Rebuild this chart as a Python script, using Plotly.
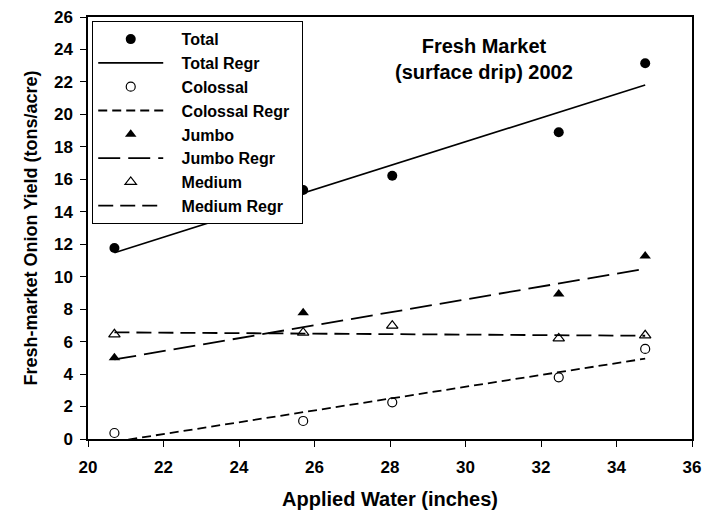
import plotly.graph_objects as go

water = [20.7, 25.7, 28.06, 32.47, 34.76]
total = [11.77, 15.34, 16.22, 18.9, 23.15]
colossal = [0.37, 1.11, 2.26, 3.8, 5.55]
jumbo = [5.01, 7.78, 6.98, 8.93, 11.27]
medium = [6.45, 6.55, 6.98, 6.2, 6.39]

regr_x = [20.7, 34.76]
total_regr = [11.48, 21.81]
colossal_regr = [-0.17, 4.95]
jumbo_regr = [4.9, 10.49]
medium_regr = [6.57, 6.36]

x_ticks = [20, 22, 24, 26, 28, 30, 32, 34, 36]
y_ticks = list(range(0, 27, 2))

FONT = "Liberation Sans, Arial, sans-serif"
BLK = "black"
PAD = "&nbsp;&nbsp;&nbsp;"

fig = go.Figure()

fig.add_trace(go.Scatter(x=water, y=total, mode="markers", name=PAD + "<b>Total</b>",
                         marker=dict(symbol="circle", size=10, color=BLK)))
fig.add_trace(go.Scatter(x=regr_x, y=total_regr, mode="lines", name=PAD + "<b>Total Regr</b>",
                         line=dict(color=BLK, width=1.6)))
fig.add_trace(go.Scatter(x=water, y=colossal, mode="markers", name=PAD + "<b>Colossal</b>",
                         marker=dict(symbol="circle", size=9, color="white",
                                     line=dict(color=BLK, width=1.2))))
fig.add_trace(go.Scatter(x=regr_x, y=colossal_regr, mode="lines",
                         name=PAD + "<b>Colossal Regr</b>&nbsp;&#8201;",
                         line=dict(color=BLK, width=1.8, dash="9px,5px")))
fig.add_trace(go.Scatter(x=water, y=jumbo, mode="markers", name=PAD + "<b>Jumbo</b>",
                         marker=dict(symbol="triangle-up", size=10, color=BLK)))
fig.add_trace(go.Scatter(x=regr_x, y=jumbo_regr, mode="lines", name=PAD + "<b>Jumbo Regr</b>",
                         line=dict(color=BLK, width=1.8, dash="22px,8px")))
fig.add_trace(go.Scatter(x=water, y=medium, mode="markers", name=PAD + "<b>Medium</b>",
                         marker=dict(symbol="triangle-up", size=10, color="white",
                                     line=dict(color=BLK, width=1.2))))
fig.add_trace(go.Scatter(x=regr_x, y=medium_regr, mode="lines", name=PAD + "<b>Medium Regr</b>",
                         line=dict(color=BLK, width=1.8, dash="15px,7px")))

fig.add_annotation(x=0.656, y=0.9, xref="paper", yref="paper",
                   text="<b>Fresh Market<br>(surface drip) 2002</b>",
                   showarrow=False, font=dict(family=FONT, size=20, color=BLK),
                   align="center", xanchor="center", yanchor="middle")

axis_common = dict(showgrid=False, zeroline=False, showline=True, linecolor=BLK,
                   linewidth=1.5, mirror=True, ticks="outside", ticklen=6,
                   tickcolor=BLK, tickwidth=1.2, automargin=False,
                   tickfont=dict(family=FONT, size=17, color=BLK))

fig.update_layout(
    width=720, height=519,
    margin=dict(l=88, r=28, t=17, b=80),
    paper_bgcolor="white", plot_bgcolor="white",
    font=dict(family=FONT, color=BLK),
    showlegend=True,
    legend=dict(x=0.007, y=0.99, xanchor="left", yanchor="top",
                bgcolor="white", bordercolor=BLK, borderwidth=1,
                font=dict(family=FONT, size=16, color=BLK),
                itemwidth=65, tracegroupgap=0),
    xaxis=dict(range=[20, 36], tickvals=x_ticks,
               ticktext=[f"<b>{v}</b>" for v in x_ticks],
               ticklabelstandoff=6,
               title=dict(text="<b>Applied Water (inches)</b>",
                          font=dict(family=FONT, size=20, color=BLK), standoff=16),
               **axis_common),
    yaxis=dict(range=[0, 26], tickvals=y_ticks,
               ticktext=[f"<b>{v}</b>" for v in y_ticks],
               ticklabelstandoff=4,
               title=dict(text="<b>Fresh-market Onion Yield (tons/acre)</b>",
                          font=dict(family=FONT, size=18, color=BLK), standoff=12),
               **axis_common),
)

fig.write_html("out.html", config={"displayModeBar": False},
               post_script="document.body.style.margin='0';")
